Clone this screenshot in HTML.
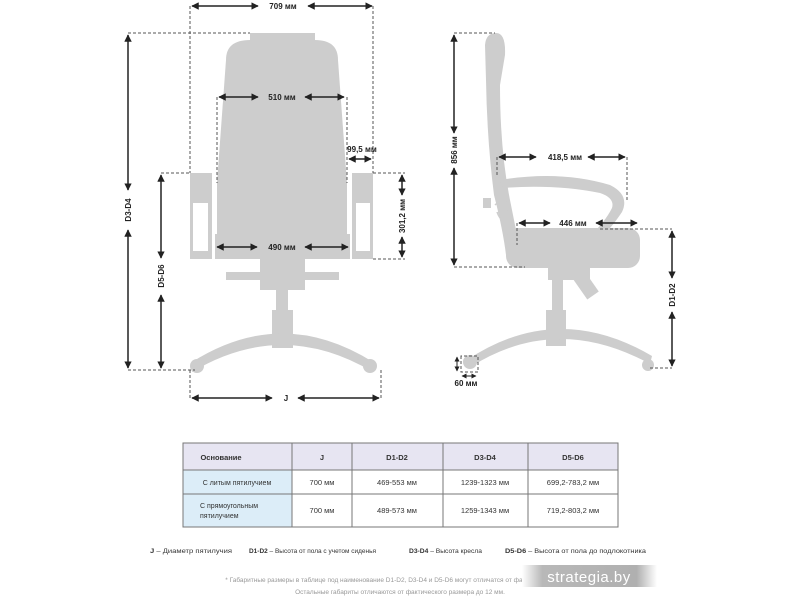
<!DOCTYPE html>
<html><head><meta charset="utf-8"><style>
body{margin:0;background:#fff;width:800px;height:600px;overflow:hidden;font-family:"Liberation Sans","Noto Sans CJK SC",sans-serif}
</style></head><body>
<svg width="800" height="600" viewBox="0 0 800 600" xmlns="http://www.w3.org/2000/svg" font-family="Liberation Sans, sans-serif">
<defs>
<marker id="a" viewBox="0 0 10 10" refX="9" refY="5" markerWidth="5" markerHeight="5" orient="auto-start-reverse"><path d="M0,0L10,5L0,10z" fill="#222"/></marker>
<linearGradient id="wm" x1="0" x2="1"><stop offset="0" stop-color="#fff"/><stop offset=".15" stop-color="#b8b8b8"/><stop offset=".85" stop-color="#b0b0b0"/><stop offset="1" stop-color="#fff"/></linearGradient>
</defs>
<g fill="#cdcdcd">
<rect x="250" y="33" width="65" height="8"/>
<path d="M226,60 Q226,40 250,40 L315,40 Q338,40 338,60 L347,183 L347,240 L217,240 L217,183 Z"/>
<rect x="190" y="173" width="22" height="86"/>
<rect x="352" y="173" width="21" height="86"/>
<rect x="215" y="234" width="135" height="25"/>
<rect x="260" y="259" width="45" height="31"/>
<rect x="226" y="272" width="113" height="8"/>
<rect x="276" y="290" width="12" height="22"/>
<rect x="272" y="310" width="21" height="38"/>
<path d="M192,362 Q282,305 373,362 L373,372 Q282,318 192,372 Z"/>
<circle cx="197" cy="366" r="7"/><circle cx="370" cy="366" r="7"/>
<path d="M485,45 Q486,33 496,33 Q506,33 505,55 L500,85 Q500,150 510,200 Q515,225 518,240 L517,262 Q510,262 506,255 Q503,230 494,195 Q487,140 486,80 Z"/>
<path d="M500,180 Q560,170 610,185 Q630,195 622,212 Q610,230 598,240 L590,236 Q605,222 612,208 Q615,198 600,193 Q555,184 503,188 Z"/>
<rect x="506" y="228" width="134" height="40" rx="12"/>
<rect x="548" y="262" width="42" height="18"/>
<rect x="578" y="270" width="14" height="28" transform="rotate(-35 585 284)"/>
<rect x="552" y="275" width="11" height="37"/>
<rect x="546" y="310" width="20" height="36"/>
<path d="M467,360 Q557,300 652,356 L650,364 Q557,313 472,366 Z"/>
<circle cx="470" cy="362" r="7"/><circle cx="648" cy="365" r="6"/>
<rect x="483" y="198" width="8" height="10"/>
</g>
<g fill="#fff"><rect x="193" y="203" width="15" height="48"/><rect x="356" y="203" width="14" height="48"/></g>
<g fill="none" stroke="#cdcdcd" stroke-width="1.5"><path d="M495,205 Q505,195 510,205 Q505,215 498,212"/><path d="M497,212 Q502,225 508,218"/></g>
<rect x="212" y="183" width="5" height="51" fill="#fff"/>
<rect x="347" y="183" width="5" height="51" fill="#fff"/>
<g stroke="#555" stroke-width="1" stroke-dasharray="3,2" fill="none">
<path d="M190,6V173M373,6V173M128,33H250M217,97V183M347,97V183M373,173H405M373,259H405M161,173H190M128,370H195M190,370V398M381,370V398"/>
<path d="M454,33H495M454,267H525M627,157V202M497,157V175M517,223V245M600,229H672M650,368H672M461,356V372H478V356Z"/>
</g>
<g stroke="#222" stroke-width="1.5" marker-start="url(#a)" marker-end="url(#a)">
<line x1="192" y1="6" x2="258" y2="6"/><line x1="372" y1="6" x2="308" y2="6" />
<line x1="219" y1="97" x2="258" y2="97"/><line x1="344" y1="97" x2="305" y2="97"/>
<line x1="349" y1="159" x2="371" y2="159"/>
<line x1="217" y1="247" x2="257" y2="247"/><line x1="348" y1="247" x2="305" y2="247"/>
<line x1="128" y1="35" x2="128" y2="190"/><line x1="128" y1="368" x2="128" y2="230"/>
<line x1="161" y1="175" x2="161" y2="258"/><line x1="161" y1="368" x2="161" y2="295"/>
<line x1="402" y1="175" x2="402" y2="195"/><line x1="402" y1="257" x2="402" y2="237"/>
<line x1="192" y1="398" x2="272" y2="398"/><line x1="379" y1="398" x2="298" y2="398"/>
<line x1="454" y1="35" x2="454" y2="133"/><line x1="454" y1="265" x2="454" y2="168"/>
<line x1="499" y1="157" x2="536" y2="157"/><line x1="625" y1="157" x2="588" y2="157"/>
<line x1="519" y1="223" x2="550" y2="223"/><line x1="637" y1="223" x2="596" y2="223"/>
<line x1="672" y1="231" x2="672" y2="278"/><line x1="672" y1="366" x2="672" y2="312"/>
</g>
<g stroke="#222" stroke-width="1" marker-start="url(#a)" marker-end="url(#a)"><line x1="457" y1="357" x2="457" y2="371"/><line x1="462" y1="376" x2="476" y2="376"/></g>
<g font-size="8" font-weight="bold" fill="#222" text-anchor="middle">
<text x="283" y="9">709 мм</text><text x="282" y="100">510 мм</text><text x="362" y="152">99,5 мм</text>
<text x="282" y="250">490 мм</text><text x="286" y="401">J</text><text x="565" y="160">418,5 мм</text>
<text x="573" y="226">446 мм</text><text x="466" y="386">60 мм</text>
<text transform="translate(131,210) rotate(-90)">D3-D4</text>
<text transform="translate(164,276) rotate(-90)">D5-D6</text>
<text transform="translate(405,216) rotate(-90)">301,2 мм</text>
<text transform="translate(457,150) rotate(-90)">856 мм</text>
<text transform="translate(675,295) rotate(-90)">D1-D2</text>
</g>
<rect x="183" y="443" width="435" height="27" fill="#e7e5f2"/>
<rect x="183" y="470" width="109" height="57" fill="#dcedf8"/>
<g stroke="#777" stroke-width="1" fill="none">
<rect x="183" y="443" width="435" height="84"/>
<path d="M183,470H618M183,494H618M292,443V527M352,443V527M443,443V527M528,443V527"/>
</g>
<g font-size="7.5" fill="#333" text-anchor="middle">
<text x="221" y="460" font-weight="bold">Основание</text>
<text x="322" y="460" font-weight="bold">J</text><text x="397" y="460" font-weight="bold">D1-D2</text>
<text x="485" y="460" font-weight="bold">D3-D4</text><text x="573" y="460" font-weight="bold">D5-D6</text>
<text x="237" y="485" font-size="7">С литым пятилучием</text>
<text x="322" y="485">700 мм</text><text x="397" y="485">469-553 мм</text><text x="485" y="485">1239-1323 мм</text><text x="573" y="485">699,2-783,2 мм</text>
<text x="322" y="513">700 мм</text><text x="397" y="513">489-573 мм</text><text x="485" y="513">1259-1343 мм</text><text x="573" y="513">719,2-803,2 мм</text>
</g>
<g font-size="7" fill="#333"><text x="200" y="508">С прямоугольным</text><text x="200" y="518">пятилучием</text></g>
<g font-size="6.5" fill="#333">
<text x="150" y="553" textLength="82" lengthAdjust="spacingAndGlyphs"><tspan font-weight="bold">J</tspan> – Диаметр пятилучия</text>
<text x="249" y="553" textLength="127" lengthAdjust="spacingAndGlyphs"><tspan font-weight="bold">D1-D2</tspan> – Высота от пола с учетом сиденья</text>
<text x="409" y="553" textLength="73" lengthAdjust="spacingAndGlyphs"><tspan font-weight="bold">D3-D4</tspan> – Высота кресла</text>
<text x="505" y="553" textLength="141" lengthAdjust="spacingAndGlyphs"><tspan font-weight="bold">D5-D6</tspan> – Высота от пола до подлокотника</text>
</g>
<g font-size="6.5" fill="#999" text-anchor="middle">
<text x="390" y="582">* Габаритные размеры в таблице под наименование D1-D2, D3-D4 и D5-D6 могут отличатся от фактического</text>
<text x="400" y="594">Остальные габариты отличаются от фактического размера до 12 мм.</text>
</g>
<rect x="522" y="565" width="135" height="22" fill="url(#wm)"/>
<text x="589" y="582" font-size="15" fill="#fff" text-anchor="middle" letter-spacing="0.5">strategia.by</text>
</svg>
</body></html>
